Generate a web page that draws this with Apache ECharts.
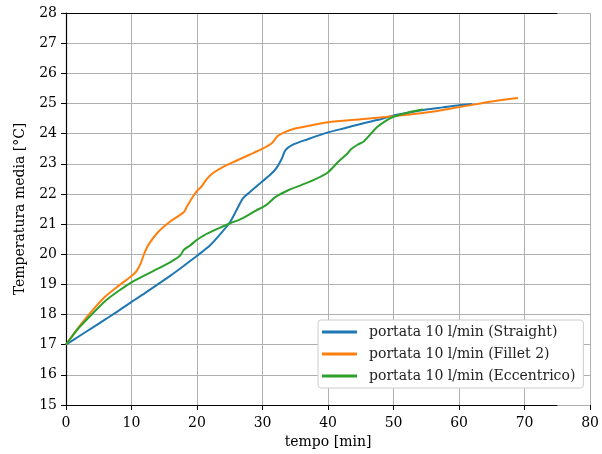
<!DOCTYPE html>
<html><head><meta charset="utf-8">
<script src="https://cdn.jsdelivr.net/npm/echarts@6/dist/echarts.min.js"></script>
<style>html,body{margin:0;padding:0;background:#fff}#c{width:602px;height:454px}</style>
</head><body><div id="c"></div>
<script>
const seriesNames = ['portata 10 l/min (Straight)', 'portata 10 l/min (Fillet 2)', 'portata 10 l/min (Eccentrico)'];
const straight = [[0,17],[2,17.28],[4,17.56],[6,17.84],[8,18.12],[10,18.42],[12,18.7],[14,19.0],[16,19.3],[18,19.62],[20,19.95],[22,20.3],[24,20.78],[25,21.05],[26,21.45],[27,21.85],[28,22.05],[30,22.42],[31,22.6],[32,22.82],[32.9,23.15],[33.5,23.45],[34.5,23.62],[37,23.82],[40,24.04],[42.5,24.18],[45,24.32],[47.5,24.45],[50,24.6],[52.5,24.7],[55,24.8],[57.5,24.87],[60,24.94],[62,24.98]];
const fillet2 = [[0,17],[1,17.3],[2,17.6],[4,18.13],[6,18.6],[8,18.95],[10,19.28],[10.8,19.45],[11.4,19.7],[12,20.05],[12.6,20.32],[14,20.72],[16,21.1],[18,21.4],[18.5,21.6],[19.2,21.85],[20,22.1],[20.7,22.25],[21.5,22.5],[22.5,22.7],[24,22.9],[26,23.1],[28,23.3],[30,23.5],[31.5,23.7],[32.3,23.92],[33.5,24.06],[35,24.17],[37.5,24.28],[40,24.38],[45,24.48],[50,24.58],[55,24.7],[60,24.88],[63.5,25.01],[66,25.1],[69,25.18]];
const eccentrico = [[0,17],[1,17.3],[2,17.57],[4,18.02],[6,18.45],[8,18.78],[10,19.07],[12,19.3],[14,19.52],[16,19.75],[17.4,19.95],[18,20.15],[19,20.3],[20,20.48],[21,20.62],[23,20.83],[25,21.02],[27,21.2],[29,21.45],[30.5,21.62],[32,21.9],[34,22.13],[36,22.3],[38,22.48],[40,22.72],[41.5,23.05],[43,23.35],[43.5,23.48],[44.5,23.63],[45.5,23.75],[47.5,24.22],[49,24.45],[50,24.56],[52.5,24.72],[54.5,24.8]];
const xMin = 0, xMax = 80, xStep = 10, spineEnd = 75;
const yMin = 15, yMax = 28, yStep = 1;
const colors = ['#1f77b4', '#ff7f0e', '#2ca02c'];
const font = 'DejaVu Serif';

const chart = echarts.init(document.getElementById('c'), null, {renderer: 'canvas'});
const mk = (name, data, color) => ({
  name, type: 'line', data, showSymbol: false, smooth: 0.25,
  lineStyle: {color, width: 2}, itemStyle: {color}, z: 3
});
chart.setOption({
  animation: false,
  textStyle: {fontFamily: font},
  grid: {left: 66, right: 8, top: 13, bottom: 49, containLabel: false},
  xAxis: {
    type: 'value', min: xMin, max: xMax, interval: xStep,
    name: 'tempo [min]', nameLocation: 'middle', nameGap: 24,
    nameTextStyle: {fontFamily: font, fontSize: 14, color: '#000'},
    axisLine: {show: false},
    axisTick: {show: true, length: 5, inside: false, lineStyle: {color: '#000', width: 1}},
    axisLabel: {fontFamily: font, fontSize: 14, color: '#000', margin: 11},
    splitLine: {show: true, lineStyle: {color: '#b0b0b0', width: 1}}
  },
  yAxis: {
    type: 'value', min: yMin, max: yMax, interval: yStep,
    name: 'Temperatura media [°C]', nameLocation: 'middle', nameGap: 39,
    nameTextStyle: {fontFamily: font, fontSize: 14, color: '#000'},
    axisLine: {show: true, onZero: false, lineStyle: {color: '#000', width: 1.2}},
    axisTick: {show: true, length: 5, lineStyle: {color: '#000', width: 1}},
    axisLabel: {fontFamily: font, fontSize: 14, color: '#000', margin: 9},
    splitLine: {show: true, lineStyle: {color: '#b0b0b0', width: 1}}
  },
  legend: {
    data: seriesNames, orient: 'vertical', left: 318, top: 320,
    backgroundColor: '#fff', borderColor: '#cccccc', borderWidth: 1, borderRadius: 3,
    padding: [5, 8, 5, 4], itemGap: 8, itemWidth: 35, itemHeight: 3, icon: 'rect',
    textStyle: {fontFamily: font, fontSize: 14, color: '#222', padding: [0, 0, 0, 7]}
  },
  series: [
    mk(seriesNames[0], straight, colors[0]),
    mk(seriesNames[1], fillet2, colors[1]),
    mk(seriesNames[2], eccentrico, colors[2]),
    {
      type: 'line', data: [], silent: true, z: 4,
      markLine: {
        silent: true, symbol: 'none', label: {show: false},
        lineStyle: {color: '#000', width: 1.2, type: 'solid'},
        data: [
          [{coord: [xMin, yMin]}, {coord: [spineEnd, yMin]}],
          [{coord: [xMin, yMax]}, {coord: [spineEnd, yMax]}]
        ]
      }
    }
  ]
});
</script></body></html>
